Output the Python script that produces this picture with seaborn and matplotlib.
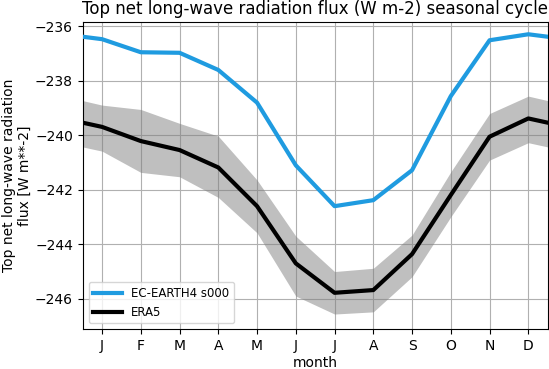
import numpy as np
import pandas as pd
import matplotlib
matplotlib.use("Agg")
import matplotlib.pyplot as plt
import seaborn as sns

month_labels = ["J", "F", "M", "A", "M", "J", "J", "A", "S", "O", "N", "D"]

# EC-EARTH4 monthly climatology
ece_vals = [-236.47, -236.95, -236.97, -237.60, -238.80, -241.10,
            -242.60, -242.38, -241.28, -238.56, -236.51, -236.29]

# ERA5 monthly climatology and spread
era5_vals = [-239.69, -240.21, -240.54, -241.18, -242.60, -244.70,
             -245.78, -245.68, -244.36, -242.19, -240.05, -239.38]
era5_upper = [-238.89, -239.05, -239.56, -240.03, -241.64, -243.70,
              -245.00, -244.88, -243.66, -241.34, -239.20, -238.56]
era5_lower = [-240.58, -241.36, -241.52, -242.28, -243.58, -245.90,
              -246.56, -246.48, -245.19, -242.99, -240.91, -240.27]


def wrap(v):
    # add December before January and January after December
    return [v[-1]] + list(v) + [v[0]]


months = np.arange(0, 14)
df = pd.DataFrame({
    "month": np.concatenate([months, months]),
    "flux": wrap(ece_vals) + wrap(era5_vals),
    "source": ["EC-EARTH4 s000"] * 14 + ["ERA5"] * 14,
})

fig = plt.figure(figsize=(5.49, 3.69), dpi=100)
ax = fig.add_axes([0.1506, 0.1076, 0.847, 0.832])

ax.fill_between(months, wrap(era5_lower), wrap(era5_upper),
                color="gray", alpha=0.5, lw=0, zorder=1)
sns.lineplot(data=df, x="month", y="flux", hue="source",
             palette={"EC-EARTH4 s000": "#1f9be0", "ERA5": "black"},
             lw=3, ax=ax, zorder=3)

ax.set_xlim(0.5, 12.5)
ax.set_ylim(-247.12, -235.85)
ax.set_xticks(range(1, 13))
ax.set_xticklabels(month_labels)
ax.set_yticks([-246, -244, -242, -240, -238, -236])
ax.grid(True, color="#b0b0b0", lw=0.8, zorder=0)
ax.set_axisbelow(True)
ax.set_xlabel("month", labelpad=2)
ax.set_ylabel("Top net long-wave radiation\nflux [W m**-2]", labelpad=2)
ax.set_title("Top net long-wave radiation flux (W m-2) seasonal cycle", fontsize=12)
ax.legend(loc="lower left", title=None, fontsize=8.5, handlelength=2.4)

fig.savefig("out.png", dpi=100)
